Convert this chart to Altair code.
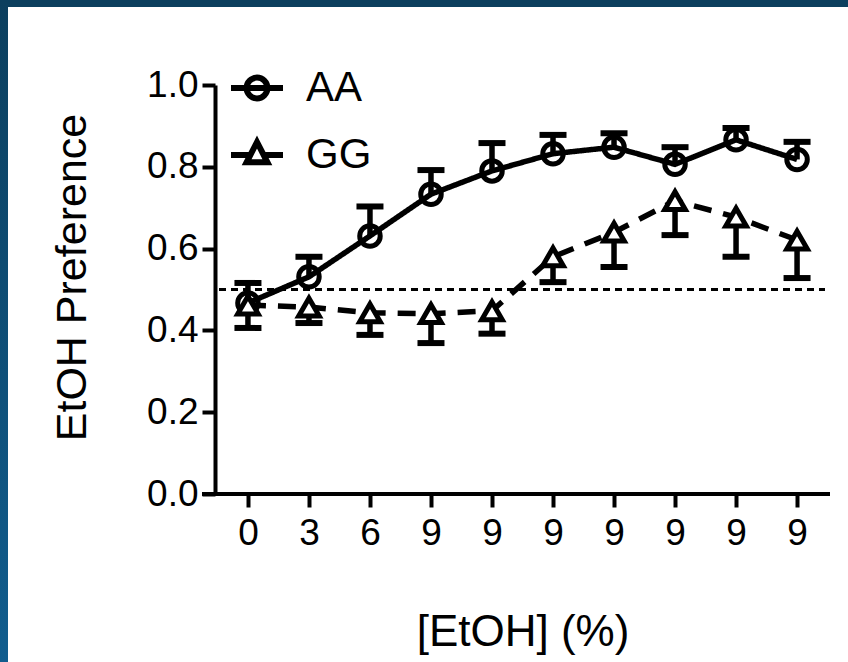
import altair as alt
import pandas as pd

# ---- data ----
conc_labels = ["0", "3", "6", "9", "9", "9", "9", "9", "9", "9"]
aa_mean = [0.467, 0.531, 0.631, 0.733, 0.790, 0.832, 0.848, 0.806, 0.866, 0.818]
aa_upper = [0.516, 0.580, 0.703, 0.792, 0.858, 0.878, 0.882, 0.848, 0.895, 0.861]
gg_mean = [0.462, 0.457, 0.443, 0.441, 0.448, 0.580, 0.640, 0.717, 0.677, 0.621]
gg_lower = [0.406, 0.418, 0.389, 0.369, 0.392, 0.518, 0.555, 0.633, 0.580, 0.528]
genotypes = ["AA", "GG"]
chance_level = 0.5

rows = []
for i in range(len(conc_labels)):
    rows.append({"pos": i, "genotype": "AA", "mean": aa_mean[i], "err": aa_upper[i]})
    rows.append({"pos": i, "genotype": "GG", "mean": gg_mean[i], "err": gg_lower[i]})
df = pd.DataFrame(rows)

W, H = 615, 409
PAD_L, PAD_T = 215, 85
TOTAL_W, TOTAL_H = 848, 662
FONT = "Liberation Sans, Arial, sans-serif"

label_expr = "[" + ",".join(f"'{l}'" for l in conc_labels) + "][datum.value]"

X = alt.X(
    "pos:O",
    scale=alt.Scale(type="point", padding=0.54),
    axis=alt.Axis(
        labelExpr=label_expr, labelAngle=0, title="[EtOH] (%)",
        domain=False, titleY=151, titleBaseline="alphabetic",
        titleFontSize=44, labelPadding=8,
    ),
)
Y = alt.Y(
    "mean:Q",
    scale=alt.Scale(domain=[0, 1], nice=False),
    axis=alt.Axis(
        values=[0, 0.2, 0.4, 0.6, 0.8, 1.0], format=".1f",
        title="EtOH Preference", titleX=-130, titleY=192,
        titleBaseline="alphabetic", titleFontSize=43, labelPadding=4,
    ),
)

one = alt.Data(values=[{}])

# dark blue frame strips (top and left)
frame_top = alt.Chart(one).mark_rect(color="#0c3f5e").encode(
    x=alt.value(-PAD_L), x2=alt.value(TOTAL_W - PAD_L),
    y=alt.value(-PAD_T), y2=alt.value(-PAD_T + 7),
)
frame_left = alt.Chart(one).mark_rect(
    color=alt.LinearGradient(
        gradient="linear",
        stops=[alt.GradientStop(color="#0c3f5e", offset=0),
               alt.GradientStop(color="#115d8e", offset=1)],
        x1=0, x2=0, y1=0, y2=1,
    )
).encode(
    x=alt.value(-PAD_L), x2=alt.value(-PAD_L + 8),
    y=alt.value(-PAD_T), y2=alt.value(TOTAL_H - PAD_T),
)

xaxis_line = alt.Chart(one).mark_rule(color="black", strokeWidth=4).encode(
    x=alt.value(-13), x2=alt.value(W), y=alt.value(H)
)

ref = alt.Chart(one).mark_rule(color="black", strokeWidth=3, strokeDash=[7, 5]).encode(
    y=alt.datum(chance_level), x=alt.value(4), x2=alt.value(W - 5)
)

base = alt.Chart(df)

err_rules = base.mark_rule(color="black", strokeWidth=5.5, opacity=1).encode(
    x=X, y=Y, y2="err:Q"
)
err_caps = base.mark_tick(color="black", thickness=6, size=27, orient="horizontal", opacity=1).encode(
    x=X, y=alt.Y("err:Q")
)

lines = base.mark_line(color="black", strokeWidth=5.5).encode(
    x=X, y=Y,
    strokeDash=alt.StrokeDash(
        "genotype:N",
        scale=alt.Scale(domain=genotypes, range=[[1, 0], [18, 12]]),
        legend=None,
    ),
)

points = base.mark_point(filled=True, stroke="black", strokeWidth=5, size=420, opacity=1).encode(
    x=X, y=Y,
    shape=alt.Shape(
        "genotype:N",
        scale=alt.Scale(domain=genotypes, range=["circle", "triangle-up"]),
        legend=None,
    ),
    fill=alt.Fill(
        "genotype:N",
        scale=alt.Scale(domain=genotypes, range=["rgba(255,255,255,0)", "white"]),
        legend=None,
    ),
)

# legend-only layer: no rows drawn, legend entries come from the scale domain
circle_path = "M-1,0H1M-0.4,0A0.4,0.4,0,1,0,0.4,0A0.4,0.4,0,1,0,-0.4,0Z"
tri_path = "M-1,0H-0.25M0.25,0H1M0,-0.5L0.4,0.28L-0.4,0.28Z"
legend_layer = base.transform_filter("false").mark_point(
    filled=False, color="black", strokeWidth=6
).encode(
    x=X, y=Y,
    shape=alt.Shape(
        "genotype:N",
        scale=alt.Scale(domain=genotypes, range=[circle_path, tri_path]),
        legend=alt.Legend(
            orient="none", legendX=13, legendY=-26, title=None, padding=0,
            labelFontSize=42, labelFont=FONT, labelColor="black",
            labelOffset=20, rowPadding=15, symbolSize=2704,
            symbolStrokeWidth=6, symbolStrokeColor="black",
            symbolFillColor="transparent", symbolOpacity=1,
            labelBaseline="middle",
        ),
    ),
)

chart = alt.layer(
    frame_top, frame_left, ref, xaxis_line, lines, err_rules, err_caps, points, legend_layer
).resolve_scale(
    shape="independent"
).properties(
    width=W, height=H, background="white",
    autosize=alt.AutoSizeParams(type="none"),
    padding={"left": PAD_L, "top": PAD_T, "right": TOTAL_W - PAD_L - W, "bottom": TOTAL_H - PAD_T - H},
).configure_view(
    stroke=None
).configure_axis(
    labelFont=FONT, titleFont=FONT, labelFontSize=37, labelColor="black",
    titleColor="black", titleFontWeight="normal",
    domainColor="black", domainWidth=4, tickColor="black", tickWidth=4,
    tickSize=13, grid=False,
)

chart.save("out.html", embed_options={"renderer": "svg", "actions": False})
